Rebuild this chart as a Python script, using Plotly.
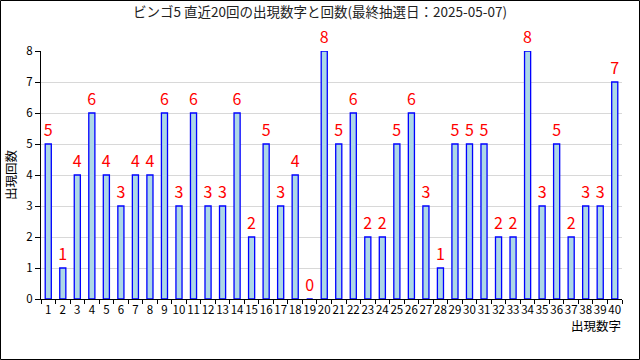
import plotly.graph_objects as go

numbers = [str(i) for i in range(1, 41)]
counts = [5, 1, 4, 6, 4, 3, 4, 4, 6, 3, 6, 3, 3, 6, 2, 5, 3, 4, 0, 8,
          5, 6, 2, 2, 5, 6, 3, 1, 5, 5, 5, 2, 2, 8, 3, 5, 2, 3, 3, 7]
title = "ビンゴ5 直近20回の出現数字と回数(最終抽選日：2025-05-07)"
x_title = "出現数字"
y_title = "出現回数"

W, H = 640, 360
L, R, T, B = 41, 18, 51, 61
pw, ph = W - L - R, H - T - B
font = "Noto Sans CJK JP"

fig = go.Figure(go.Bar(
    x=numbers, y=counts, width=0.42,
    marker=dict(color="#add8e6", line=dict(color="#0000ff", width=1.3)),
    text=[str(c) for c in counts], textposition="outside",
    textfont=dict(color="#ff0000", size=16, family=font),
    constraintext="none",
    cliponaxis=False,
))

fig.update_layout(
    width=W, height=H, margin=dict(l=L, r=R, t=T, b=B, pad=0),
    paper_bgcolor="white", plot_bgcolor="white",
    showlegend=False, bargap=0.58,
    font=dict(family=font, size=12, color="#000000"),
    title=dict(text=title, x=0.5, xanchor="center", y=1 - 12 / H, yanchor="middle",
               font=dict(size=13.5, color="#222222", family=font)),
    xaxis=dict(type="category", showline=True, linecolor="black", linewidth=1,
               tickmode="array", tickvals=numbers, ticktext=numbers,
               ticks="outside", tickson="boundaries", ticklen=4, tickcolor="black",
               showgrid=False, tickfont=dict(size=11.5, family=font), tickangle=0),
    yaxis=dict(range=[0, 8], showline=True, linecolor="black", linewidth=1,
               ticks="outside", ticklen=5, tickcolor="black", dtick=1,
               showgrid=True, gridcolor="#d8d8d8", gridwidth=1, zeroline=False,
               tickfont=dict(size=11.5, family=font)),
    annotations=[
        dict(text=y_title, textangle=-90, xref="paper", yref="paper",
             x=(10 - L) / pw, y=(H - B - 175) / ph, showarrow=False,
             xanchor="center", yanchor="middle", font=dict(size=12.5, family=font)),
        dict(text=x_title, xref="paper", yref="paper",
             x=(623 - L) / pw, y=(H - B - 325) / ph, showarrow=False,
             xanchor="right", yanchor="middle", font=dict(size=12.5, family=font)),
    ],
    shapes=[dict(type="rect", xref="paper", yref="paper",
                 x0=(0.5 - L) / pw, x1=(W - 0.5 - L) / pw,
                 y0=(H - B - (H - 0.5)) / ph, y1=(H - B - 0.5) / ph,
                 line=dict(color="black", width=1), fillcolor="rgba(0,0,0,0)")],
)

fig.write_html("out.html")
